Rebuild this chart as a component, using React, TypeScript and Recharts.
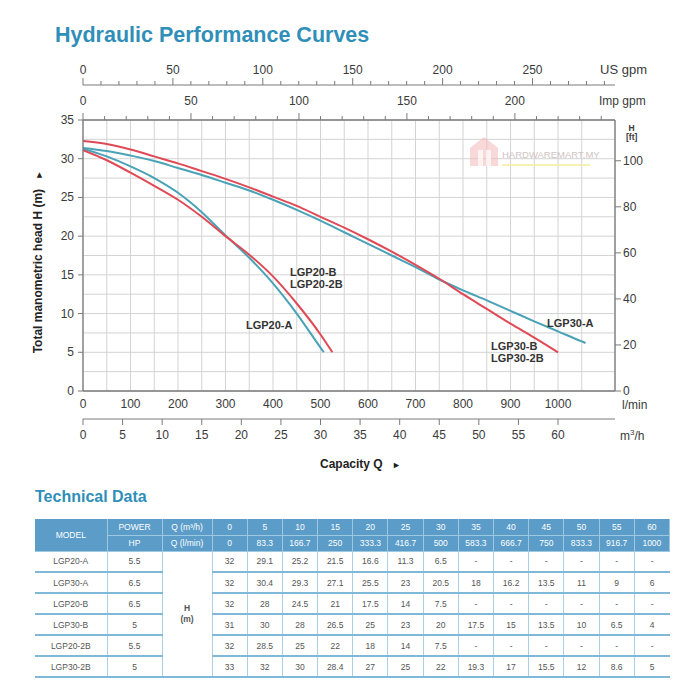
import React from "react";
import {
  CartesianGrid,
  ComposedChart,
  Line,
  ReferenceDot,
  XAxis,
  YAxis,
} from "recharts";

const FONT = '"Liberation Sans", Arial, Helvetica, sans-serif';
const TEAL = "#2f8fb8";
const RED = "#e04a56";
const BLUE = "#49a2b6";
const AXIS = "#7a7a7a";
const TEXT = "#3a3a3a";

// domains (l/min on the main axis; the others are the same span in other units)
const Q_MAX = 1120;
const H_MAX = 35;
const FT_MAX = 117.7;
const US_GPM = 3.7854;
const IMP_GPM = 4.5461;
const M3H = 16.667;

// curves: Q in l/min, H in m
const q20A = [0, 50, 100, 150, 200, 250, 300, 350, 400, 450, 500, 507];
const h20A = [31.3, 30.3, 29.0, 27.5, 25.6, 23.1, 20.1, 17.2, 13.9, 10.0, 5.6, 5.0];

const q20B = [0, 50, 100, 150, 200, 250, 300, 350, 400, 450, 500, 525];
const h20B = [31.1, 29.8, 28.2, 26.5, 24.7, 22.5, 20.0, 17.6, 14.8, 11.3, 7.3, 5.0];

const q30A = [0, 50, 100, 150, 200, 250, 300, 350, 400, 450, 500, 550, 600, 650, 700, 750, 800, 850, 900, 950, 1000, 1050, 1058];
const h30A = [31.4, 31.0, 30.4, 29.7, 28.8, 27.9, 26.9, 25.9, 24.7, 23.4, 22.0, 20.5, 19.0, 17.5, 16.0, 14.4, 13.0, 11.7, 10.35, 9.0, 7.7, 6.4, 6.2];

const q30B = [0, 50, 100, 150, 200, 250, 300, 350, 400, 450, 500, 550, 600, 650, 700, 750, 800, 850, 900, 950, 1000];
const h30B = [32.3, 31.9, 31.2, 30.3, 29.4, 28.4, 27.4, 26.3, 25.1, 23.9, 22.5, 21.1, 19.6, 18.0, 16.3, 14.5, 12.5, 10.6, 8.7, 6.9, 5.0];

// curve labels (placed in data units)
const labelText = ["LGP20-B", "LGP20-2B", "LGP20-A", "LGP30-A", "LGP30-B", "LGP30-2B"];
const labelQ = [436, 436, 343, 977, 859, 859];
const labelH = [15.4, 13.8, 8.5, 8.8, 5.8, 4.3];

// axis ticks
const lpmTicks = [0, 50, 100, 150, 200, 250, 300, 350, 400, 450, 500, 550, 600, 650, 700, 750, 800, 850, 900, 950, 1000, 1050];
const m3hTicks = [0, 5, 10, 15, 20, 25, 30, 35, 40, 45, 50, 55, 60];
const usTicks = [0, 10, 20, 30, 40, 50, 60, 70, 80, 90, 100, 110, 120, 130, 140, 150, 160, 170, 180, 190, 200, 210, 220, 230, 240, 250, 260, 270, 280, 290];
const impTicks = [0, 10, 20, 30, 40, 50, 60, 70, 80, 90, 100, 110, 120, 130, 140, 150, 160, 170, 180, 190, 200, 210, 220, 230, 240];
const mTicks = [0, 2.5, 5, 7.5, 10, 12.5, 15, 17.5, 20, 22.5, 25, 27.5, 30, 32.5, 35];
const ftTicks = [0, 20, 40, 60, 80, 100];

// technical data table
const models = ["LGP20-A", "LGP30-A", "LGP20-B", "LGP30-B", "LGP20-2B", "LGP30-2B"];
const powerHp = ["5.5", "6.5", "6.5", "5", "5.5", "5"];
const tableQm3h = ["0", "5", "10", "15", "20", "25", "30", "35", "40", "45", "50", "55", "60"];
const tableQlmin = ["0", "83.3", "166.7", "250", "333.3", "416.7", "500", "583.3", "666.7", "750", "833.3", "916.7", "1000"];
const headLgp20A = ["32", "29.1", "25.2", "21.5", "16.6", "11.3", "6.5", "-", "-", "-", "-", "-", "-"];
const headLgp30A = ["32", "30.4", "29.3", "27.1", "25.5", "23", "20.5", "18", "16.2", "13.5", "11", "9", "6"];
const headLgp20B = ["32", "28", "24.5", "21", "17.5", "14", "7.5", "-", "-", "-", "-", "-", "-"];
const headLgp30B = ["31", "30", "28", "26.5", "25", "23", "20", "17.5", "15", "13.5", "10", "6.5", "4"];
const headLgp20_2B = ["32", "28.5", "25", "22", "18", "14", "7.5", "-", "-", "-", "-", "-", "-"];
const headLgp30_2B = ["33", "32", "30", "28.4", "27", "25", "22", "19.3", "17", "15.5", "12", "8.6", "5"];
const headRows = [headLgp20A, headLgp30A, headLgp20B, headLgp30B, headLgp20_2B, headLgp30_2B];

const toPoints = (qs: number[], hs: number[]) => qs.map((q, i) => ({ q, h: hs[i] }));
const pts30A = toPoints(q30A, h30A);

const tickFont = { fontSize: 12, fill: TEXT, fontFamily: FONT };

function LpmTick({ x, y, payload }: any) {
  const v = payload.value;
  if (v % 100 !== 0 || v > 1000) return <g />;
  return (
    <text x={x} y={y + 17} textAnchor="middle" {...tickFont}>
      {v}
    </text>
  );
}

function M3hTick({ x, y, payload }: any) {
  return (
    <g>
      <line x1={x} y1={y} x2={x} y2={y + 6} stroke={AXIS} />
      <text x={x} y={y + 20} textAnchor="middle" {...tickFont}>
        {payload.value}
      </text>
    </g>
  );
}

function TopTick({ x, y, payload, labelGap }: any) {
  const v = payload.value;
  const major = v % 50 === 0;
  return (
    <g>
      <line x1={x} y1={y} x2={x} y2={y - (major ? 7 : 4)} stroke={AXIS} />
      {major && (
        <text x={x} y={y - labelGap} textAnchor="middle" {...tickFont}>
          {v}
        </text>
      )}
    </g>
  );
}

function LeftTick({ x, y, payload }: any) {
  const v = payload.value;
  if (v % 5 !== 0) return <g />;
  return (
    <g>
      <line x1={x - 5} y1={y} x2={x} y2={y} stroke={AXIS} />
      <text x={x - 9} y={y + 4} textAnchor="end" {...tickFont}>
        {v}
      </text>
    </g>
  );
}

function RightTick({ x, y, payload }: any) {
  return (
    <g>
      <line x1={x} y1={y} x2={x + 6} y2={y} stroke={AXIS} />
      <text x={x + 8} y={y + 4} textAnchor="start" {...tickFont}>
        {payload.value}
      </text>
    </g>
  );
}

const abs = (left: number, top: number, extra: React.CSSProperties = {}): React.CSSProperties => ({
  position: "absolute",
  left,
  top,
  whiteSpace: "nowrap",
  ...extra,
});

function Curves() {
  return (
    <ComposedChart width={700} height={480} margin={{ top: 55, right: 40, bottom: 31, left: 33 }}>
      <CartesianGrid xAxisId="lpm" yAxisId="m" stroke="#d3d3d3" />
      <XAxis
        xAxisId="lpm"
        type="number"
        dataKey="q"
        orientation="bottom"
        domain={[0, Q_MAX]}
        ticks={lpmTicks}
        interval={0}
        allowDataOverflow
        height={28}
        tickSize={0}
        tickMargin={0}
        tickLine={false}
        axisLine={{ stroke: AXIS, strokeWidth: 1.3 }}
        tick={(p: any) => <LpmTick {...p} />}
      />
      <XAxis
        xAxisId="m3h"
        type="number"
        dataKey={(d: any) => d.q / M3H}
        orientation="bottom"
        domain={[0, Q_MAX / M3H]}
        ticks={m3hTicks}
        interval={0}
        allowDataOverflow
        height={30}
        tickSize={0}
        tickMargin={0}
        tickLine={false}
        axisLine={{ stroke: AXIS }}
        tick={(p: any) => <M3hTick {...p} />}
      />
      <XAxis
        xAxisId="imp"
        type="number"
        dataKey={(d: any) => d.q / IMP_GPM}
        orientation="top"
        domain={[0, Q_MAX / IMP_GPM]}
        ticks={impTicks}
        interval={0}
        allowDataOverflow
        height={35}
        tickSize={0}
        tickMargin={0}
        tickLine={false}
        axisLine={{ stroke: AXIS, strokeWidth: 1.3 }}
        tick={(p: any) => <TopTick {...p} labelGap={15} />}
      />
      <XAxis
        xAxisId="us"
        type="number"
        dataKey={(d: any) => d.q / US_GPM}
        orientation="top"
        domain={[0, Q_MAX / US_GPM]}
        ticks={usTicks}
        interval={0}
        allowDataOverflow
        height={30}
        tickSize={0}
        tickMargin={0}
        tickLine={false}
        axisLine={{ stroke: AXIS }}
        tick={(p: any) => <TopTick {...p} labelGap={11} />}
      />
      <YAxis
        yAxisId="m"
        type="number"
        domain={[0, H_MAX]}
        ticks={mTicks}
        interval={0}
        allowDataOverflow
        width={50}
        tickSize={0}
        tickMargin={0}
        tickLine={false}
        axisLine={{ stroke: AXIS, strokeWidth: 1.3 }}
        tick={(p: any) => <LeftTick {...p} />}
      />
      <YAxis
        yAxisId="ft"
        type="number"
        orientation="right"
        domain={[0, FT_MAX]}
        ticks={ftTicks}
        interval={0}
        allowDataOverflow
        width={45}
        tickSize={0}
        tickMargin={0}
        tickLine={false}
        axisLine={{ stroke: AXIS, strokeWidth: 1.3 }}
        tick={(p: any) => <RightTick {...p} />}
      />
      {/* invisible copies tie the unit axes to data so they draw their ticks */}
      <Line xAxisId="m3h" yAxisId="m" data={pts30A} dataKey="h" stroke="none" dot={false} activeDot={false} isAnimationActive={false} />
      <Line xAxisId="imp" yAxisId="m" data={pts30A} dataKey="h" stroke="none" dot={false} activeDot={false} isAnimationActive={false} />
      <Line xAxisId="us" yAxisId="m" data={pts30A} dataKey="h" stroke="none" dot={false} activeDot={false} isAnimationActive={false} />
      <Line xAxisId="lpm" yAxisId="ft" data={pts30A} dataKey="h" stroke="none" dot={false} activeDot={false} isAnimationActive={false} />

      <Line xAxisId="lpm" yAxisId="m" data={pts30A} dataKey="h" type="monotone" stroke={BLUE} strokeWidth={2} dot={false} isAnimationActive={false} />
      <Line xAxisId="lpm" yAxisId="m" data={toPoints(q30B, h30B)} dataKey="h" type="monotone" stroke={RED} strokeWidth={2} dot={false} isAnimationActive={false} />
      <Line xAxisId="lpm" yAxisId="m" data={toPoints(q20A, h20A)} dataKey="h" type="monotone" stroke={BLUE} strokeWidth={2} dot={false} isAnimationActive={false} />
      <Line xAxisId="lpm" yAxisId="m" data={toPoints(q20B, h20B)} dataKey="h" type="monotone" stroke={RED} strokeWidth={2} dot={false} isAnimationActive={false} />
      {labelText.map((t, i) => (
        <ReferenceDot
          key={t}
          xAxisId="lpm"
          yAxisId="m"
          x={labelQ[i]}
          y={labelH[i]}
          r={0}
          shape={(p: any) => (
            <text x={p.cx} y={p.cy + 4} fontSize={11} fontWeight={700} fill="#333" fontFamily={FONT}>
              {t}
            </text>
          )}
        />
      ))}
    </ComposedChart>
  );
}

const hdrCell: React.CSSProperties = {
  background: "#5b9cc9",
  color: "#fff",
  fontSize: 8.5,
  textAlign: "center",
  padding: 0,
  border: "1px solid #9cc8e0",
  borderTop: "none",
};

const dataCell: React.CSSProperties = {
  color: "#555",
  fontSize: 8.5,
  textAlign: "center",
  padding: 0,
  borderLeft: "1px solid #a9d0e4",
  borderRight: "1px solid #a9d0e4",
  borderBottom: "2px solid #80b9d7",
};

function TechTable() {
  return (
    <table
      style={{
        position: "absolute",
        left: 35,
        top: 519,
        width: 635,
        borderCollapse: "collapse",
        tableLayout: "fixed",
        fontFamily: FONT,
      }}
    >
      <colgroup>
        <col style={{ width: 72 }} />
        <col style={{ width: 55 }} />
        <col style={{ width: 50 }} />
        {tableQm3h.map((v) => (
          <col key={v} />
        ))}
      </colgroup>
      <tbody>
        <tr style={{ height: 16 }}>
          <td rowSpan={2} style={{ ...hdrCell, borderLeft: "none" }}>MODEL</td>
          <td style={hdrCell}>POWER</td>
          <td style={hdrCell}>Q (m³/h)</td>
          {tableQm3h.map((v) => (
            <td key={v} style={hdrCell}>{v}</td>
          ))}
        </tr>
        <tr style={{ height: 16 }}>
          <td style={hdrCell}>HP</td>
          <td style={hdrCell}>Q (l/min)</td>
          {tableQlmin.map((v) => (
            <td key={v} style={hdrCell}>{v}</td>
          ))}
        </tr>
        {models.map((m, i) => (
          <tr key={m} style={{ height: 21 }}>
            <td style={{ ...dataCell, borderLeft: "none" }}>{m}</td>
            <td style={dataCell}>{powerHp[i]}</td>
            {i === 0 && (
              <td rowSpan={models.length} style={{ ...dataCell, fontWeight: 700, lineHeight: "11px" }}>
                H
                <br />
                (m)
              </td>
            )}
            {headRows[i].map((v, j) => (
              <td key={j} style={j === headRows[i].length - 1 ? { ...dataCell, borderRight: "none" } : dataCell}>
                {v}
              </td>
            ))}
          </tr>
        ))}
      </tbody>
    </table>
  );
}

export default function App() {
  return (
    <div
      style={{
        position: "absolute",
        left: 0,
        top: 0,
        width: 700,
        height: 700,
        background: "#fff",
        overflow: "hidden",
        fontFamily: FONT,
        color: TEXT,
      }}
    >
      <div style={abs(55, 23, { fontSize: 21.5, lineHeight: "24px", fontWeight: 700, color: TEAL })}>
        Hydraulic Performance Curves
      </div>

      <div style={abs(0, 0)}>
        <Curves />
      </div>

      {/* watermark */}
      <svg style={abs(466, 134)} width={150} height={36}>
        <path d="M4 14 L18 3 L32 14 L32 32 L4 32 Z" fill="#f2b8b8" opacity={0.55} />
        <rect x={12} y={16} width={5} height={16} fill="#fff" opacity={0.7} />
        <rect x={20} y={16} width={5} height={16} fill="#fff" opacity={0.7} />
        <text x={36} y={24} fontSize={9.5} fill="#cfc4c4" fontFamily={FONT}>
          HARDWAREMART.MY
        </text>
        <line x1={36} y1={31} x2={124} y2={31} stroke="#f3ee9a" strokeWidth={1.5} />
      </svg>

      <div style={abs(600, 62, { fontSize: 13 })}>US gpm</div>
      <div style={abs(599, 94, { fontSize: 12 })}>Imp gpm</div>
      <div style={abs(626, 124, { fontSize: 8.5, lineHeight: "9px", fontWeight: 700, textAlign: "center" })}>
        H
        <br />
        [ft]
      </div>
      <div style={abs(622, 398, { fontSize: 12 })}>l/min</div>
      <div style={abs(620, 428, { fontSize: 12 })}>
        m<sup style={{ fontSize: 8 }}>3</sup>/h
      </div>

      <div style={abs(320, 457, { fontSize: 12, fontWeight: 700, color: "#222" })}>
        Capacity Q <span style={{ fontSize: 9, marginLeft: 6 }}>►</span>
      </div>
      <div
        style={abs(38, 262, {
          fontSize: 12,
          fontWeight: 700,
          color: "#222",
          transform: "translate(-50%, -50%) rotate(-90deg)",
        })}
      >
        Total manometric head H (m) <span style={{ fontSize: 9, marginLeft: 6 }}>►</span>
      </div>

      <div style={abs(35, 487, { fontSize: 16, lineHeight: "20px", fontWeight: 700, color: TEAL })}>
        Technical Data
      </div>
      <TechTable />
    </div>
  );
}
